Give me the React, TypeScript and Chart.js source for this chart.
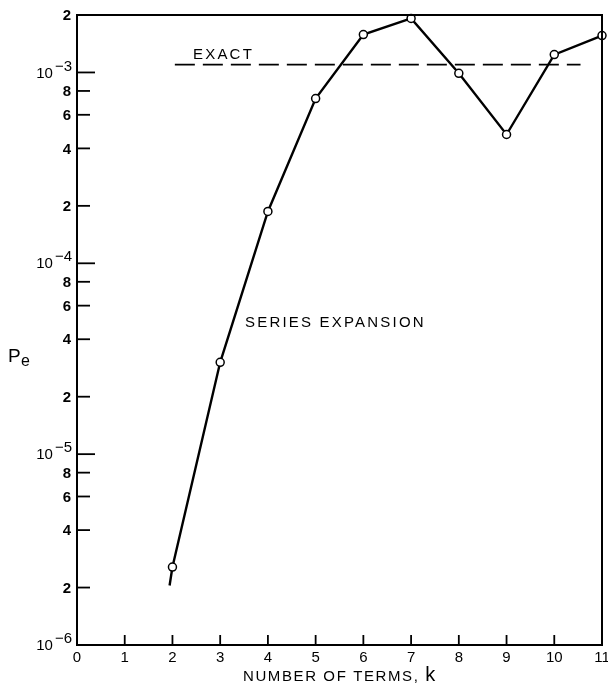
import React, { useEffect, useRef } from "react";
import { Chart, registerables } from "chart.js";

Chart.register(...registerables);

// Data
const kValues = [1.94, 2, 3, 4, 5, 6, 7, 8, 9, 10, 11];
const peValues = [2.05e-6, 2.56e-6, 3.03e-5, 1.87e-4, 7.3e-4, 1.58e-3, 1.92e-3, 9.9e-4, 4.73e-4, 1.24e-3, 1.56e-3];
const exactK = [2.05, 10.55];
const exactValue = 1.1e-3;

const xTicks = [0, 1, 2, 3, 4, 5, 6, 7, 8, 9, 10, 11];
const xTickLabels = ["0", "1", "2", "3", "4", "5", "6", "7", "8", "9", "10", "11"];
const yTickValues = [
  1e-6, 2e-6, 4e-6, 6e-6, 8e-6,
  1e-5, 2e-5, 4e-5, 6e-5, 8e-5,
  1e-4, 2e-4, 4e-4, 6e-4, 8e-4,
  1e-3, 2e-3,
];
const yTickLabels = [
  "10|−6", "2", "4", "6", "8",
  "10|−5", "2", "4", "6", "8",
  "10|−4", "2", "4", "6", "8",
  "10|−3", "2",
];

const FONT = '"Liberation Sans", Arial, sans-serif';

const decorPlugin = {
  id: "decor",
  afterDraw(chart: any) {
    const ctx = chart.ctx as CanvasRenderingContext2D;
    const { left, right, top, bottom } = chart.chartArea;
    const xs = chart.scales.x;
    const ys = chart.scales.y;
    ctx.save();
    ctx.strokeStyle = "#000";
    ctx.fillStyle = "#000";
    // frame
    ctx.lineWidth = 2;
    ctx.strokeRect(left, top, right - left, bottom - top);

    // y ticks + labels
    ctx.lineWidth = 1.8;
    yTickValues.forEach((v, i) => {
      const y = ys.getPixelForValue(v);
      const lab = yTickLabels[i];
      const major = lab.includes("|");
      if (i < yTickValues.length - 1) {
        ctx.beginPath();
        ctx.moveTo(left, y);
        ctx.lineTo(left + (major ? 18 : 13), y);
        ctx.stroke();
      }
      ctx.textBaseline = "middle";
      ctx.textAlign = "right";
      if (major) {
        const [base, exp] = lab.split("|");
        ctx.font = `15px ${FONT}`;
        const ew = ctx.measureText(exp).width;
        ctx.fillText(exp, left - 5, y - 6);
        ctx.fillText(base, left - 7 - ew, y + 1);
      } else {
        ctx.font = `bold 15px ${FONT}`;
        ctx.fillText(lab, left - 6, y + 1);
      }
    });

    // x ticks + labels
    xTicks.forEach((v, i) => {
      const x = xs.getPixelForValue(v);
      if (i > 0 && i < xTicks.length - 1) {
        ctx.beginPath();
        ctx.moveTo(x, bottom);
        ctx.lineTo(x, bottom - 10);
        ctx.stroke();
      }
      ctx.font = `15px ${FONT}`;
      ctx.textAlign = "center";
      ctx.textBaseline = "middle";
      ctx.fillText(xTickLabels[i], x, bottom + 13);
    });

    // axis titles
    ctx.textAlign = "left";
    ctx.textBaseline = "alphabetic";
    (ctx as any).letterSpacing = "1.6px";
    ctx.font = `15px ${FONT}`;
    const xt = "NUMBER OF TERMS, ";
    const w1 = ctx.measureText(xt).width;
    ctx.font = `20px ${FONT}`;
    const w2 = ctx.measureText("k").width;
    const sx = 243;
    ctx.font = `15px ${FONT}`;
    ctx.fillText(xt, sx, 681);
    ctx.font = `20px ${FONT}`;
    ctx.fillText("k", sx + w1, 681);
    void w2;

    (ctx as any).letterSpacing = "0px";
    ctx.font = `19px ${FONT}`;
    ctx.fillText("P", 8, 362);
    ctx.font = `16px ${FONT}`;
    ctx.fillText("e", 21, 366);

    // annotations
    (ctx as any).letterSpacing = "2.2px";
    ctx.font = `15px ${FONT}`;
    ctx.fillText("EXACT", 193, 59);
    ctx.fillText("SERIES EXPANSION", 245, 327);
    ctx.restore();
  },
};

export default function App() {
  const ref = useRef<HTMLCanvasElement>(null);
  useEffect(() => {
    if (!ref.current) return;
    const chart = new Chart(ref.current, {
      type: "scatter",
      data: {
        datasets: [
          {
            label: "Series expansion",
            data: kValues.map((k, i) => ({ x: k, y: peValues[i] })),
            showLine: true,
            borderColor: "#000",
            borderWidth: 2.4,
            pointRadius: (c: any) => (c.dataIndex === 0 ? 0 : 4),
            pointBackgroundColor: "#fff",
            pointBorderColor: "#000",
            pointBorderWidth: 1.5,
            clip: false as any,
            order: 0,
          },
          {
            label: "Exact",
            data: exactK.map((k) => ({ x: k, y: exactValue })),
            showLine: true,
            borderColor: "#000",
            borderWidth: 1.8,
            borderDash: [20, 8],
            pointRadius: 0,
            order: 1,
          },
        ],
      },
      options: {
        animation: false,
        responsive: false,
        maintainAspectRatio: false,
        layout: { padding: { left: 77, right: 6, top: 15, bottom: 41 } },
        plugins: { legend: { display: false }, tooltip: { enabled: false } },
        scales: {
          x: { type: "linear", min: 0, max: 11, display: false },
          y: { type: "logarithmic", min: 1e-6, max: 2e-3, display: false },
        },
      },
      plugins: [decorPlugin],
    });
    return () => chart.destroy();
  }, []);
  return (
    <div style={{ position: "fixed", left: 0, top: 0, width: 608, height: 686, background: "#fff" }}>
      <canvas ref={ref} width={608} height={686} style={{ width: 608, height: 686 }} />
    </div>
  );
}
